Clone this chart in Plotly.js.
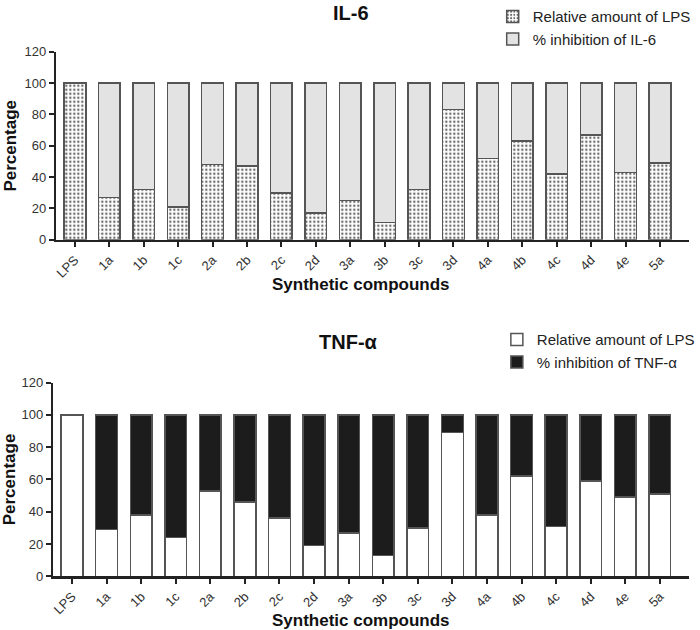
<!DOCTYPE html>
<html>
<head>
<meta charset="utf-8">
<script src="https://cdn.plot.ly/plotly-3.0.1.min.js"></script>
<style>html,body{margin:0;padding:0;background:#fff}#chart{width:700px;height:630px}</style>
</head>
<body>
<div id="chart"></div>
<script>
const compounds = ["LPS","1a","1b","1c","2a","2b","2c","2d","3a","3b","3c","3d","4a","4b","4c","4d","4e","5a"];
const il6Relative = [100,27,32,21,48,47,30,17,25,11,32,83,52,63,42,67,43,49];
const il6Inhibition = [0,73,68,79,52,53,70,83,75,89,68,17,48,37,58,33,57,51];
const tnfRelative = [100,29,38,24,53,46,36,19,27,13,30,89,38,62,31,59,49,51];
const tnfInhibition = [0,71,62,76,47,54,64,81,73,87,70,11,62,38,69,41,51,49];
const yTicks = [0,20,40,60,80,100,120];

const FONT = "Arial, 'Liberation Sans', sans-serif";
const outline = {color:"#555", width:1.5};
const W = 0.63;

const traces = [
  {type:"bar", x:compounds, y:il6Relative, name:"Relative amount of LPS", xaxis:"x", yaxis:"y", width:W,
   marker:{color:"#fff", line:outline, pattern:{shape:".", fgcolor:"#666", bgcolor:"#fff", size:4, solidity:0.28}},
   legend:"legend", hoverinfo:"x+y"},
  {type:"bar", x:compounds, y:il6Inhibition, name:"% inhibition of IL-6", xaxis:"x", yaxis:"y", width:W,
   marker:{color:"#e3e3e3", line:outline}, legend:"legend", hoverinfo:"x+y"},
  {type:"bar", x:compounds, y:tnfRelative, name:"Relative amount of LPS", xaxis:"x2", yaxis:"y2", width:W,
   marker:{color:"#fff", line:outline}, legend:"legend2", hoverinfo:"x+y"},
  {type:"bar", x:compounds, y:tnfInhibition, name:"% inhibition of TNF-α", xaxis:"x2", yaxis:"y2", width:W,
   marker:{color:"#1c1c1c", line:outline}, legend:"legend2", hoverinfo:"x+y"}
];

const xBase = {
  type:"category", range:[-0.54,17.85], showline:true, linecolor:"#222", linewidth:2.5,
  ticks:"outside", ticklen:5, tickwidth:2, tickcolor:"#222", tickangle:-45,
  tickfont:{family:FONT, size:13, color:"#333"}, showgrid:false, zeroline:false, fixedrange:true
};
const yBase = {
  range:[0,120], tickvals:yTicks, showline:true, linecolor:"#222", linewidth:2.5,
  ticks:"outside", ticklen:5, tickwidth:2, tickcolor:"#222",
  tickfont:{family:FONT, size:13, color:"#333"}, showgrid:false, zeroline:false, fixedrange:true
};
const yTitle = {text:"Percentage", font:{family:FONT, size:17, color:"#111", weight:"bold"}, standoff:4};

const legBase = {
  orientation:"v", bgcolor:"rgba(0,0,0,0)", font:{family:FONT, size:15, color:"#222"},
  traceorder:"normal", xanchor:"left", yanchor:"top", itemwidth:30, tracegroupgap:4
};

const layout = {
  width:700, height:630, paper_bgcolor:"#fff", plot_bgcolor:"#fff",
  margin:{l:0, r:0, t:0, b:0}, barmode:"stack", bargap:0.37, showlegend:true,
  xaxis:Object.assign({}, xBase, {domain:[0.0814,0.996], anchor:"y"}),
  yaxis:Object.assign({}, yBase, {domain:[0.6233,0.9238], anchor:"x", title:yTitle}),
  xaxis2:Object.assign({}, xBase, {domain:[0.0771,0.996], anchor:"y2"}),
  yaxis2:Object.assign({}, yBase, {domain:[0.0857,0.3952], anchor:"x2", title:yTitle}),
  legend:Object.assign({}, legBase, {x:0.712, y:1.006}),
  legend2:Object.assign({}, legBase, {x:0.718, y:0.49}),
  annotations:[
    {text:"IL-6", xref:"paper", yref:"paper", x:0.507, y:0.986, xanchor:"center", yanchor:"middle", showarrow:false,
     font:{family:FONT, size:20, color:"#111", weight:"bold"}},
    {text:"TNF-α", xref:"paper", yref:"paper", x:0.503, y:0.46, xanchor:"center", yanchor:"middle", showarrow:false,
     font:{family:FONT, size:20, color:"#111", weight:"bold"}},
    {text:"Synthetic compounds", xref:"paper", yref:"paper", x:0.522, y:1-282/630, xanchor:"center", yanchor:"middle", showarrow:false,
     font:{family:FONT, size:17, color:"#111", weight:"bold"}},
    {text:"Synthetic compounds", xref:"paper", yref:"paper", x:0.522, y:1-620/630, xanchor:"center", yanchor:"middle", showarrow:false,
     font:{family:FONT, size:17, color:"#111", weight:"bold"}}
  ]
};

Plotly.newPlot("chart", traces, layout, {displayModeBar:false, staticPlot:true});
</script>
</body>
</html>
